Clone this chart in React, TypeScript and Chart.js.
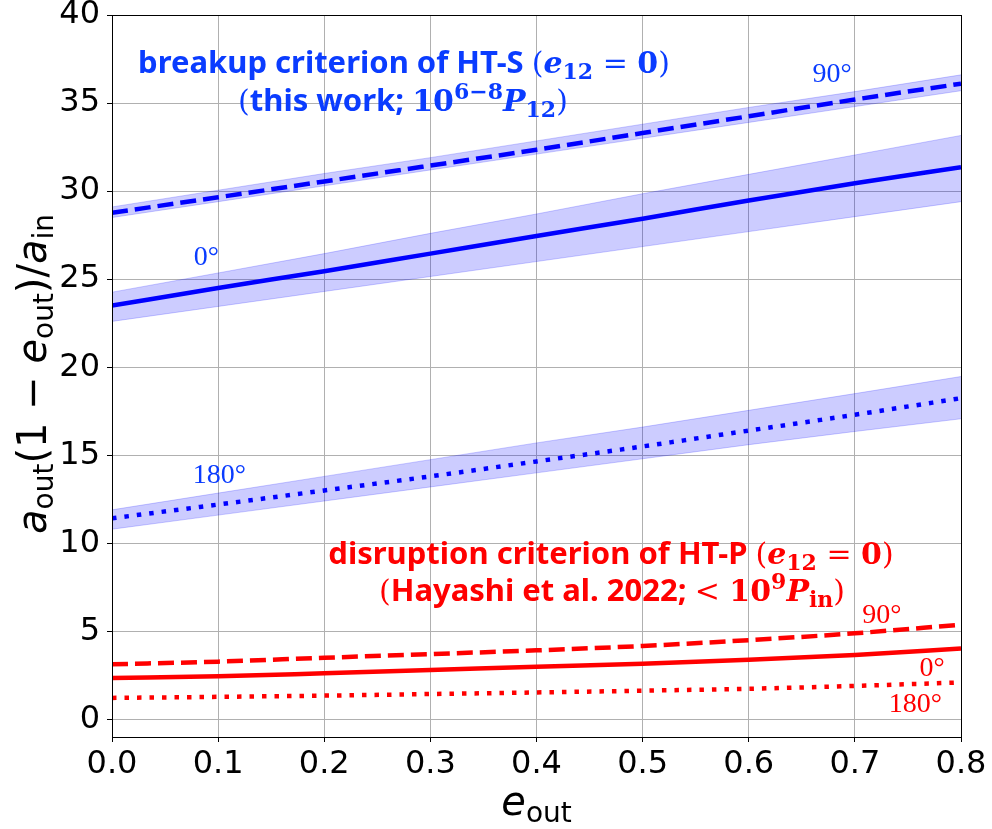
import React, { useEffect, useRef } from 'react';
import { Chart, registerables } from 'chart.js';
Chart.register(...registerables);

// ---- data ----
const eOut = [0, 0.1, 0.2, 0.3, 0.4, 0.5, 0.6, 0.7, 0.8];

// HT-S breakup criterion (this work), inclination 0°, 90°, 180°
const htS0 = [23.5, 24.5, 25.45, 26.45, 27.45, 28.43, 29.47, 30.45, 31.36];
const htS0Upper = [24.26, 25.35, 26.45, 27.6, 28.7, 29.85, 30.95, 32.05, 33.16];
const htS0Lower = [22.6, 23.45, 24.3, 25.15, 26.0, 26.85, 27.7, 28.55, 29.4];
const htS90 = [28.77, 29.65, 30.55, 31.45, 32.35, 33.3, 34.25, 35.2, 36.1];
const htS90Upper = [29.1, 30.05, 31.0, 31.9, 32.85, 33.8, 34.75, 35.65, 36.6];
const htS90Lower = [28.5, 29.4, 30.3, 31.2, 32.1, 33.0, 33.9, 34.8, 35.7];
const htS180 = [11.42, 12.2, 13.0, 13.8, 14.65, 15.5, 16.4, 17.3, 18.24];
const htS180Upper = [11.9, 12.85, 13.8, 14.75, 15.7, 16.6, 17.55, 18.5, 19.47];
const htS180Lower = [10.8, 11.6, 12.4, 13.2, 14.0, 14.8, 15.6, 16.35, 17.07];

// HT-P disruption criterion (Hayashi et al. 2022)
const htP0 = [2.35, 2.45, 2.62, 2.8, 2.99, 3.16, 3.38, 3.66, 4.03];
const htP90 = [3.13, 3.28, 3.5, 3.71, 3.92, 4.17, 4.5, 4.89, 5.38];
const htP180 = [1.22, 1.28, 1.35, 1.44, 1.53, 1.63, 1.74, 1.9, 2.1];

const xTicks = [0, 0.1, 0.2, 0.3, 0.4, 0.5, 0.6, 0.7, 0.8];
const yTicks = [0, 5, 10, 15, 20, 25, 30, 35, 40];

// ---- styles ----
const BLUE = '#0000ff';
const RED = '#ff0000';
const BAND = 'rgba(0,0,255,0.2)';
const BLUE_TEXT = '#0a3cff';
const SANS = '"Noto Sans", "DejaVu Sans", sans-serif';
const SERIF = '"DejaVu Serif", serif';
const LSERIF = '"Liberation Serif", serif';
const DV = '"DejaVu Sans", sans-serif';

const pts = (ys: number[]) => ys.map((y, i) => ({ x: eOut[i], y }));

type Seg = { t: string; f: string; dy?: number };

function drawRich(ctx: CanvasRenderingContext2D, segs: Seg[], cx: number, base: number, color: string) {
  let total = 0;
  for (const s of segs) {
    ctx.font = s.f;
    total += ctx.measureText(s.t).width;
  }
  let x = cx - total / 2;
  ctx.fillStyle = color;
  ctx.textBaseline = 'alphabetic';
  ctx.textAlign = 'left';
  for (const s of segs) {
    ctx.font = s.f;
    ctx.fillText(s.t, x, base + (s.dy || 0));
    x += ctx.measureText(s.t).width;
  }
}

const TS = 31; // title font size
const MS = 30; // math font size
const sb = `bold ${TS}px ${SANS}`;
const mr = `${MS}px ${SERIF}`;
const mb = `bold ${MS}px ${SERIF}`;
const mbi = `italic bold ${MS}px ${SERIF}`;
const msub = `bold ${Math.round(MS * 0.72)}px ${SERIF}`;

const blueLine1: Seg[] = [
  { t: 'breakup criterion of HT-S ', f: sb },
  { t: '(', f: mr },
  { t: 'e', f: mbi },
  { t: '12', f: msub, dy: 6 },
  { t: ' = ', f: mr },
  { t: '0', f: mb },
  { t: ')', f: mr },
];
const blueLine2: Seg[] = [
  { t: '(', f: mr },
  { t: 'this work; ', f: sb },
  { t: '10', f: mb },
  { t: '6−8', f: msub, dy: -12 },
  { t: 'P', f: mbi },
  { t: '12', f: msub, dy: 6 },
  { t: ')', f: mr },
];
const redLine1: Seg[] = [
  { t: 'disruption criterion of HT-P ', f: sb },
  { t: '(', f: mr },
  { t: 'e', f: mbi },
  { t: '12', f: msub, dy: 6 },
  { t: ' = ', f: mr },
  { t: '0', f: mb },
  { t: ')', f: mr },
];
const redLine2: Seg[] = [
  { t: '(', f: mr },
  { t: 'Hayashi et al. 2022; ', f: sb },
  { t: '< ', f: mr },
  { t: '10', f: mb },
  { t: '9', f: msub, dy: -12 },
  { t: 'P', f: mbi },
  { t: 'in', f: msub, dy: 6 },
  { t: ')', f: mr },
];

const yTitle: Seg[] = [
  { t: 'a', f: `italic 40px ${DV}` },
  { t: 'out', f: `28px ${DV}`, dy: 7 },
  { t: '(1 − ', f: `40px ${DV}` },
  { t: 'e', f: `italic 40px ${DV}` },
  { t: 'out', f: `28px ${DV}`, dy: 7 },
  { t: ')/', f: `40px ${DV}` },
  { t: 'a', f: `italic 40px ${DV}` },
  { t: 'in', f: `28px ${DV}`, dy: 7 },
];
const xTitle: Seg[] = [
  { t: 'e', f: `italic 40px ${DV}` },
  { t: 'out', f: `28px ${DV}`, dy: 7 },
];

const annotPlugin = {
  id: 'annot',
  afterDraw(chart: any) {
    const ctx: CanvasRenderingContext2D = chart.ctx;
    const a = chart.chartArea;
    const xs = chart.scales.x;
    const ys = chart.scales.y;
    ctx.save();
    // spines
    ctx.strokeStyle = '#000';
    ctx.lineWidth = 1;
    ctx.strokeRect(Math.round(a.left) + 0.5, Math.round(a.top) + 0.5, Math.round(a.right - a.left), Math.round(a.bottom - a.top));

    // titles inside plot
    drawRich(ctx, blueLine1, 404, 73, BLUE_TEXT);
    drawRich(ctx, blueLine2, 403, 111, BLUE_TEXT);
    drawRich(ctx, redLine1, 611, 564, RED);
    drawRich(ctx, redLine2, 612, 601, RED);

    // angle labels
    const lab = (t: string, e: number, y: number, color: string) => {
      ctx.font = `28px ${LSERIF}`;
      ctx.fillStyle = color;
      ctx.textAlign = 'left';
      ctx.textBaseline = 'alphabetic';
      ctx.fillText(t, xs.getPixelForValue(e), ys.getPixelForValue(y));
    };
    lab('90°', 0.660, 36.2, BLUE_TEXT);
    lab('0°', 0.077, 25.8, BLUE_TEXT);
    lab('180°', 0.076, 13.45, BLUE_TEXT);
    lab('90°', 0.707, 5.5, RED);
    lab('0°', 0.761, 2.44, RED);
    lab('180°', 0.732, 0.4, RED);

    // axis titles
    drawRich(ctx, xTitle, (a.left + a.right) / 2, 815, '#000');
    ctx.translate(46, 374);
    ctx.rotate(-Math.PI / 2);
    drawRich(ctx, yTitle, 0, 0, '#000');
    ctx.restore();
  },
};

export default function App() {
  const ref = useRef<HTMLCanvasElement | null>(null);
  useEffect(() => {
    if (!ref.current) return;
    const lineDs = (label: string, ys: number[], color: string, dash: number[]) => ({
      label,
      data: pts(ys),
      borderColor: color,
      borderWidth: 4.5,
      borderDash: dash,
      borderCapStyle: 'butt',
      pointRadius: 0,
      fill: false,
      cubicInterpolationMode: 'monotone',
      order: 0,
    });
    const bandDs = (label: string, ys: number[], fill: any) => ({
      label,
      data: pts(ys),
      borderColor: BAND,
      borderWidth: 1,
      backgroundColor: BAND,
      pointRadius: 0,
      fill,
      order: 1,
    });
    const DASH = [16, 7];
    const DOT = [4.5, 8];
    const chart = new Chart(ref.current, {
      type: 'line',
      data: {
        datasets: [
          bandDs('S0 up', htS0Upper, 1), // 0
          bandDs('S0 lo', htS0Lower, false), // 1
          bandDs('S90 up', htS90Upper, 3), // 2
          bandDs('S90 lo', htS90Lower, false), // 3
          bandDs('S180 up', htS180Upper, 5), // 4
          bandDs('S180 lo', htS180Lower, false), // 5
          lineDs('HT-S 0°', htS0, BLUE, []),
          lineDs('HT-S 90°', htS90, BLUE, DASH),
          lineDs('HT-S 180°', htS180, BLUE, DOT),
          lineDs('HT-P 0°', htP0, RED, []),
          lineDs('HT-P 90°', htP90, RED, DASH),
          lineDs('HT-P 180°', htP180, RED, DOT),
        ] as any,
      },
      options: {
        animation: false,
        responsive: false,
        devicePixelRatio: 1,
        layout: { padding: { top: 15, right: 31, left: 0, bottom: 0 } },
        plugins: { legend: { display: false }, tooltip: { enabled: false } },
        scales: {
          x: {
            type: 'linear',
            min: 0,
            max: 0.8,
            afterBuildTicks: (s: any) => { s.ticks = xTicks.map((v) => ({ value: v })); },
            afterFit: (s: any) => { s.height = 92; s.paddingLeft = 0; s.paddingRight = 0; },
            ticks: {
              color: '#000',
              font: { family: '"DejaVu Sans"', size: 32 },
              padding: 3,
              maxRotation: 0,
              autoSkip: false,
              callback: (v: any) => Number(v).toFixed(1),
            },
            grid: { color: '#b0b0b0', lineWidth: 1, tickColor: '#000', tickLength: 5 },
            border: { color: '#000', width: 1 },
          },
          y: {
            type: 'linear',
            min: -1,
            max: 40,
            afterBuildTicks: (s: any) => { s.ticks = yTicks.map((v) => ({ value: v })); },
            afterFit: (s: any) => { s.width = 112; s.paddingTop = 0; s.paddingBottom = 0; },
            ticks: {
              color: '#000',
              font: { family: '"DejaVu Sans"', size: 32 },
              padding: 7,
              autoSkip: false,
              callback: (v: any) => String(v),
            },
            grid: { color: '#b0b0b0', lineWidth: 1, tickColor: '#000', tickLength: 5 },
            border: { color: '#000', width: 1 },
          },
        },
      },
      plugins: [annotPlugin],
    } as any);
    return () => chart.destroy();
  }, []);
  return (
    <div style={{ position: 'fixed', left: 0, top: 0, width: 992, height: 829, background: '#fff' }}>
      <canvas ref={ref} width={992} height={829} style={{ display: 'block', width: 992, height: 829 }} />
    </div>
  );
}
